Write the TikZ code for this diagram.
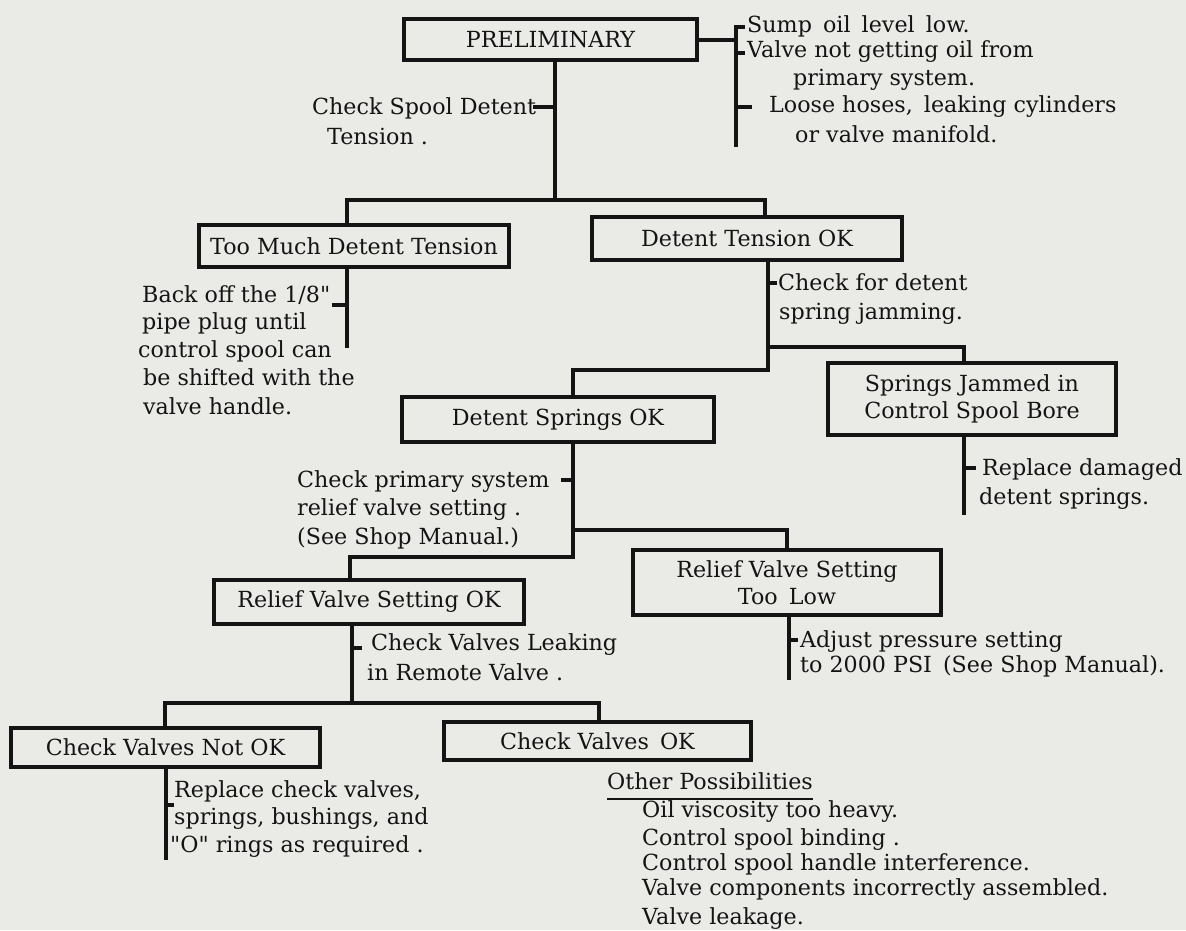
\documentclass[tikz,border=0pt]{standalone}
\usepackage{fontspec}
\setmainfont{DejaVu Serif}
\newcommand\dfont{\fontsize{22.2}{27}\selectfont}
\definecolor{ink}{RGB}{20,20,20}
\definecolor{paper}{RGB}{234,234,231}
\begin{document}
\begin{tikzpicture}[x=1pt,y=-1pt,
  box/.style={draw=ink, line width=4.2pt, inner sep=0pt, text=ink, font=\dfont, align=center},
  lbl/.style={anchor=base west, inner sep=0pt, text=ink, font=\dfont},
  wire/.style={draw=ink, line width=4pt}]
\useasboundingbox (0,0) rectangle (1186,930);
\fill[paper] (0,0) rectangle (1186,930);

% boxes
\node[box, minimum width=293pt, minimum height=41pt] (prelim) at (550.5,39.5) {PRELIMINARY};
\node[box, minimum width=310pt, minimum height=42pt] (toomuch) at (354,246) {Too Much Detent Tension};
\node[box, minimum width=310pt, minimum height=43pt] (tensionok) at (747,238.5) {Detent Tension OK};
\node[box, minimum width=312pt, minimum height=45pt] (springsok) at (558,419.5) {Detent Springs OK};
\node[box, minimum width=288pt, minimum height=72pt] (jammed) at (972,399) {Springs Jammed in\\Control Spool Bore};
\node[box, minimum width=310pt, minimum height=44pt] (reliefok) at (369,602) {Relief Valve Setting OK};
\node[box, minimum width=308pt, minimum height=65pt] (toolow) at (787,582.5) {Relief Valve Setting\\Too\enspace Low};
\node[box, minimum width=309pt, minimum height=39pt] (notok) at (165.5,747.5) {Check Valves Not OK};
\node[box, minimum width=307pt, minimum height=38pt] (cvok) at (597.5,741) {Check Valves\enspace OK};

% labels
\node[lbl] (p1) at (747,32) {Sump\enspace oil\enspace level\enspace low.};
\node[lbl] (p2) at (747,57) {Valve not getting oil from};
\node[lbl] (p3) at (793,85) {primary system.};
\node[lbl] (p4) at (769,112) {Loose hoses,\enspace leaking cylinders};
\node[lbl] (p5) at (795,142) {or valve manifold.};
\node[lbl] (c1) at (312,114) {Check Spool Detent};
\node[lbl] (c2) at (327,144) {Tension .};
\node[lbl] (b1) at (142,302) {Back off the 1/8\textquotedbl};
\node[lbl] (b2) at (142,329) {pipe plug until};
\node[lbl] (b3) at (138,357) {control spool can};
\node[lbl] (b4) at (143,385) {be shifted with the};
\node[lbl] (b5) at (143,414) {valve handle.};
\node[lbl] (d1) at (778,290) {Check for detent};
\node[lbl] (d2) at (779,319) {spring jamming.};
\node[lbl] (r1) at (297,487) {Check primary system};
\node[lbl] (r2) at (297,515) {relief valve setting .};
\node[lbl] (r3) at (297,544) {(See Shop Manual.)};
\node[lbl] (j1) at (982,475) {Replace damaged};
\node[lbl] (j2) at (979,504) {detent springs.};
\node[lbl] (a1) at (800,647) {Adjust pressure setting};
\node[lbl] (a2) at (800,672) {to 2000 PSI\enspace (See Shop Manual).};
\node[lbl] (v1) at (371,650) {Check Valves Leaking};
\node[lbl] (v2) at (367,680) {in Remote Valve .};
\node[lbl] (n1) at (174,797) {Replace check valves,};
\node[lbl] (n2) at (174,824) {springs, bushings, and};
\node[lbl] (n3) at (170,852) {\textquotedbl O\textquotedbl{} rings as required .};
\node[lbl] (o0) at (607,789) {Other Possibilities};
\node[lbl] (o1) at (642,817) {Oil viscosity too heavy.};
\node[lbl] (o2) at (642,845) {Control spool binding .};
\node[lbl] (o3) at (642,870) {Control spool handle interference.};
\node[lbl] (o4) at (642,895) {Valve components incorrectly assembled.};
\node[lbl] (o5) at (642,924) {Valve leakage.};
\draw[ink, line width=1.8pt] (607,799) -- (o0.east |- 0,799);

% PRELIMINARY tree
\coordinate (s1) at (555,200);
\coordinate (b1l) at (347,200);
\coordinate (b1r) at (765,200);
\draw[wire] (prelim.south -| s1) -- (s1);
\draw[wire] (toomuch.north -| b1l) -- (b1l) -- (b1r) -- (tensionok.north -| b1r);
\coordinate (k1) at (555,107);
\draw[wire] (k1) -- ++(-22,0);

% right bracket
\coordinate (brt) at (736,27);
\coordinate (brb) at (736,147);
\draw[wire] (prelim.east) -- (prelim.east -| brt);
\draw[wire] ([xshift=9pt]brt) -- (brt) -- (brb);
\coordinate (k2) at (736,53);
\coordinate (k3) at (736,107);
\draw[wire] (k2) -- ++(9,0);
\draw[wire] (k3) -- ++(16,0);

% too much
\coordinate (s2) at (347,348);
\draw[wire] (toomuch.south -| s2) -- (s2);
\coordinate (k4) at (347,305);
\draw[wire] (k4) -- ++(-15,0);

% tension ok
\coordinate (s3a) at (768,347);
\coordinate (s3b) at (768,370);
\coordinate (b3l) at (573,370);
\coordinate (b3r) at (964,347);
\draw[wire] (tensionok.south -| s3b) -- (s3b) -- (b3l) -- (springsok.north -| b3l);
\draw[wire] (s3a) -- (b3r) -- (jammed.north -| b3r);
\coordinate (k5) at (768,283);
\draw[wire] (k5) -- ++(9,0);

% jammed
\coordinate (s5) at (964,515);
\draw[wire] (jammed.south -| s5) -- (s5);
\coordinate (k6) at (964,468);
\draw[wire] (k6) -- ++(12,0);

% springs ok
\coordinate (s4a) at (573,530);
\coordinate (s4b) at (573,557);
\coordinate (b4l) at (350,557);
\coordinate (b4r) at (787,530);
\draw[wire] (springsok.south -| s4b) -- (s4b) -- (b4l) -- (reliefok.north -| b4l);
\draw[wire] (s4a) -- (b4r) -- (toolow.north -| b4r);
\coordinate (k7) at (573,480);
\draw[wire] (k7) -- ++(-12,0);

% too low
\coordinate (s6) at (789,680);
\draw[wire] (toolow.south -| s6) -- (s6);
\coordinate (k8) at (789,640);
\draw[wire] (k8) -- ++(9,0);

% relief ok
\coordinate (s7) at (352,703);
\coordinate (b7l) at (165,703);
\coordinate (b7r) at (599,703);
\draw[wire] (reliefok.south -| s7) -- (s7);
\draw[wire] (notok.north -| b7l) -- (b7l) -- (b7r) -- (cvok.north -| b7r);
\coordinate (k9) at (352,648);
\draw[wire] (k9) -- ++(10,0);

% not ok
\coordinate (s8) at (166,860);
\draw[wire] (notok.south -| s8) -- (s8);
\coordinate (k10) at (166,805);
\draw[wire] (k10) -- ++(8,0);
\end{tikzpicture}
\end{document}
